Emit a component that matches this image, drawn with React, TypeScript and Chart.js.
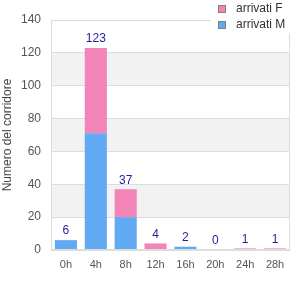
import React, { useEffect, useRef } from "react";
import { Chart, registerables } from "chart.js";

Chart.register(...registerables);

const categories = ["0h", "4h", "8h", "12h", "16h", "20h", "24h", "28h"];
const arrivatiM = [6, 71, 20, 0, 2, 0, 0, 0];
const arrivatiF = [0, 52, 17, 4, 0, 0, 1, 1];
const yTicks = [0, 20, 40, 60, 80, 100, 120, 140];

const PINK = "#F384B8";
const BLUE = "#62A9F3";
const FONT = "'Liberation Sans', Arial, sans-serif";

const bandsPlugin = {
  id: "bands",
  beforeDraw(chart: any) {
    const { ctx, chartArea, scales } = chart;
    const y = scales.y;
    ctx.save();
    ctx.fillStyle = "#f2f2f2";
    for (let i = 0; i < yTicks.length - 1; i++) {
      if (i % 2 === 1) {
        const top = y.getPixelForValue(yTicks[i + 1]);
        const bot = y.getPixelForValue(yTicks[i]);
        ctx.fillRect(chartArea.left, top, chartArea.right - chartArea.left, bot - top);
      }
    }
    ctx.restore();
  },
};

const overlayPlugin = {
  id: "overlay",
  afterDraw(chart: any) {
    const { ctx, scales, chartArea } = chart;
    const x = scales.x;
    const y = scales.y;
    ctx.save();
    // frame
    ctx.strokeStyle = "#dcdcdc";
    ctx.lineWidth = 1;
    ctx.strokeRect(
      Math.round(chartArea.left) + 0.5,
      Math.round(chartArea.top) + 0.5,
      Math.round(chartArea.right - chartArea.left) - 1,
      Math.round(chartArea.bottom - chartArea.top) - 1
    );
    // totals
    ctx.fillStyle = "#1f1f9a";
    ctx.font = `12px ${FONT}`;
    ctx.textAlign = "center";
    ctx.textBaseline = "bottom";
    categories.forEach((c, i) => {
      const total = arrivatiM[i] + arrivatiF[i];
      ctx.fillText(String(total), x.getPixelForValue(i), y.getPixelForValue(total) - 3);
    });
    // legend
    ctx.fillStyle = "#ffffff";
    ctx.fillRect(211, 0, 89, 33);
    const items = [
      { label: "arrivati F", color: PINK },
      { label: "arrivati M", color: BLUE },
    ];
    ctx.font = `12px ${FONT}`;
    ctx.textAlign = "left";
    ctx.textBaseline = "middle";
    items.forEach((it, i) => {
      const yy = 5 + i * 16;
      ctx.fillStyle = "#808080";
      ctx.fillRect(218, yy, 8, 8);
      ctx.fillStyle = it.color;
      ctx.fillRect(219, yy + 1, 6, 6);
      ctx.fillStyle = "#333";
      ctx.fillText(it.label, 236, yy + 4);
    });
    ctx.restore();
  },
};

export default function App() {
  const ref = useRef<HTMLCanvasElement>(null);
  useEffect(() => {
    document.body.style.margin = "0";
    const chart = new Chart(ref.current!, {
      type: "bar",
      data: {
        labels: categories,
        datasets: [
          { label: "arrivati M", data: arrivatiM, backgroundColor: BLUE, barPercentage: 0.74, categoryPercentage: 1 },
          { label: "arrivati F", data: arrivatiF, backgroundColor: PINK, barPercentage: 0.74, categoryPercentage: 1 },
        ],
      },
      options: {
        animation: false,
        responsive: false,
        maintainAspectRatio: false,
        layout: { padding: { top: 20, right: 10, left: 0, bottom: 0 } },
        plugins: { legend: { display: false }, tooltip: { enabled: false } },
        scales: {
          x: {
            stacked: true,
            grid: { display: false, drawTicks: false },
            border: { display: false },
            ticks: { color: "#555", font: { family: FONT, size: 11 }, padding: 8, maxRotation: 0 },
            afterFit(s: any) { s.height = 50; },
          },
          y: {
            stacked: true,
            min: 0,
            max: 140,
            grid: { color: "#dcdcdc", drawTicks: false },
            border: { display: false },
            ticks: { stepSize: 20, color: "#555", font: { family: FONT, size: 12 }, padding: 10 },
            title: { display: true, text: "Numero del corridore", color: "#444", font: { family: FONT, size: 12 }, padding: 0 },
            afterFit(s: any) { s.width = 51; },
          },
        },
      },
      plugins: [bandsPlugin, overlayPlugin],
    });
    return () => chart.destroy();
  }, []);
  return <canvas ref={ref} width={300} height={300} style={{ display: "block" }} />;
}
